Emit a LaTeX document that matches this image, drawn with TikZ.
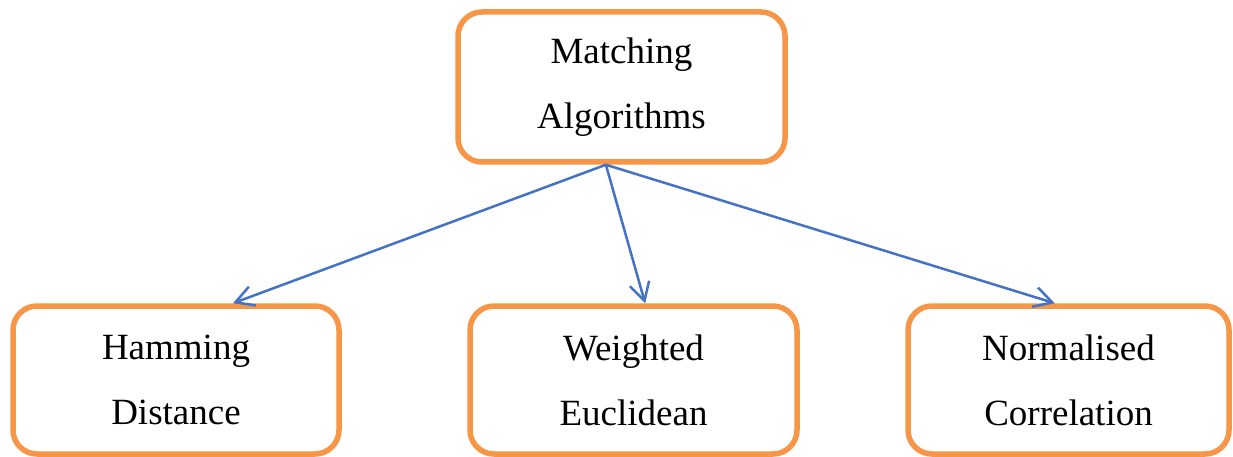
\documentclass[tikz,border=0pt]{standalone}
\usepackage{fontspec}
\setmainfont{Liberation Serif}
\usetikzlibrary{arrows.meta,calc}
\definecolor{boxorange}{HTML}{F79646}
\definecolor{arrowblue}{HTML}{4472C4}
\begin{document}
\begin{tikzpicture}[x=1pt,y=-1pt,
  algbox/.style={draw=boxorange, line width=5.5pt, rounded corners=24pt,
    fill=white, minimum width=327pt, minimum height=150pt, align=center,
    inner sep=0pt, font=\fontsize{37}{65}\selectfont},
  link/.style={draw=arrowblue, line width=2.5pt,
    -{Straight Barb[length=18pt,width=20pt,line width=2.5pt]}}]
\useasboundingbox (0,0) rectangle (1233,457);
\node[algbox] (top) at (621.5,87) {Matching\\Algorithms};
\node[algbox, minimum width=326pt, minimum height=148pt] (ham) at (176,380) {Hamming\\Distance};
\node[algbox, minimum height=148pt] (weu) at (633.5,380) {Weighted\\Euclidean};
\node[algbox, minimum width=321pt, minimum height=148pt] (ncc) at (1068.5,380) {Normalised\\Correlation};
\coordinate (src) at ($(top.south west)!0.453!(top.south east)$);
\coordinate (tham) at ($(ham.north west)!0.672!(ham.north east)$);
\coordinate (tweu) at ($(weu.north west)!0.535!(weu.north east)$);
\coordinate (tncc) at ($(ncc.north west)!0.458!(ncc.north east)$);
\draw[link] (src) -- (tham);
\draw[link] (src) -- (tweu);
\draw[link] (src) -- (tncc);
\end{tikzpicture}
\end{document}
